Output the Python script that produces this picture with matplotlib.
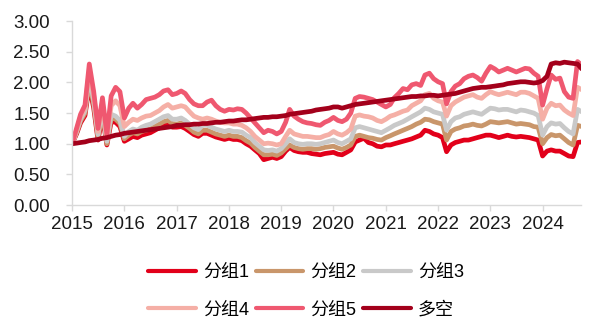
import pandas as pd
import matplotlib.pyplot as plt
import matplotlib.dates as mdates
from matplotlib.ticker import FormatStrFormatter

plt.rcParams['font.family'] = ['Liberation Sans', 'Noto Sans CJK SC', 'DejaVu Sans']

# monthly net value, Jan 2015 .. Oct 2024
dates = pd.date_range("2015-01-01", periods=118, freq="MS")

g1 = [1.00, 1.16, 1.34, 1.46, 1.95, 1.58, 1.06, 1.46, 0.98, 1.36, 1.35, 1.28,
      1.04, 1.08, 1.12, 1.10, 1.14, 1.16, 1.18, 1.22, 1.26, 1.30, 1.32, 1.27,
      1.27, 1.28, 1.25, 1.20, 1.15, 1.12, 1.17, 1.17, 1.14, 1.11, 1.09, 1.07,
      1.09, 1.07, 1.07, 1.05, 1.00, 0.96, 0.90, 0.84, 0.74, 0.76, 0.78, 0.76,
      0.79, 0.88, 0.94, 0.89, 0.87, 0.86, 0.86, 0.84, 0.83, 0.82, 0.84, 0.85,
      0.86, 0.83, 0.82, 0.86, 0.90, 1.03, 1.06, 1.09, 1.02, 1.00, 0.96, 0.95,
      0.98, 0.98, 1.00, 1.02, 1.04, 1.06, 1.08, 1.11, 1.14, 1.22, 1.20, 1.16,
      1.14, 1.10, 0.87, 0.98, 1.02, 1.04, 1.06, 1.06, 1.08, 1.10, 1.12, 1.14,
      1.14, 1.12, 1.10, 1.12, 1.14, 1.12, 1.11, 1.12, 1.11, 1.10, 1.08, 1.06,
      0.80, 0.88, 0.90, 0.88, 0.88, 0.84, 0.80, 0.79, 1.02, 1.03]

g2 = [1.00, 1.18, 1.37, 1.50, 2.02, 1.64, 1.10, 1.52, 1.00, 1.42, 1.40, 1.33,
      1.08, 1.14, 1.18, 1.16, 1.20, 1.22, 1.24, 1.28, 1.32, 1.36, 1.38, 1.33,
      1.32, 1.34, 1.30, 1.25, 1.19, 1.16, 1.22, 1.22, 1.19, 1.16, 1.14, 1.12,
      1.14, 1.12, 1.12, 1.10, 1.05, 1.01, 0.94, 0.88, 0.82, 0.82, 0.83, 0.81,
      0.85, 0.92, 0.98, 0.94, 0.92, 0.91, 0.92, 0.92, 0.91, 0.92, 0.94, 0.95,
      0.96, 0.93, 0.91, 0.94, 0.98, 1.12, 1.14, 1.12, 1.10, 1.09, 1.07, 1.06,
      1.10, 1.13, 1.16, 1.19, 1.22, 1.25, 1.28, 1.32, 1.35, 1.40, 1.39, 1.36,
      1.34, 1.32, 1.06, 1.20, 1.24, 1.26, 1.29, 1.30, 1.32, 1.30, 1.29, 1.32,
      1.36, 1.35, 1.34, 1.35, 1.36, 1.34, 1.32, 1.33, 1.32, 1.31, 1.28, 1.27,
      1.00, 1.10, 1.15, 1.13, 1.14, 1.08, 1.02, 0.98, 1.30, 1.28]

g3 = [1.00, 1.20, 1.40, 1.54, 2.10, 1.70, 1.15, 1.58, 1.04, 1.48, 1.45, 1.38,
      1.12, 1.20, 1.24, 1.22, 1.27, 1.30, 1.32, 1.36, 1.40, 1.44, 1.46, 1.40,
      1.40, 1.42, 1.38, 1.32, 1.26, 1.23, 1.30, 1.30, 1.27, 1.24, 1.22, 1.20,
      1.22, 1.20, 1.20, 1.19, 1.14, 1.10, 1.02, 0.96, 0.90, 0.89, 0.90, 0.88,
      0.92, 1.00, 1.08, 1.02, 1.00, 0.99, 1.00, 1.00, 0.99, 1.00, 1.02, 1.04,
      1.06, 1.02, 1.00, 1.04, 1.08, 1.26, 1.28, 1.26, 1.24, 1.22, 1.20, 1.18,
      1.22, 1.26, 1.30, 1.33, 1.36, 1.40, 1.44, 1.48, 1.52, 1.58, 1.56, 1.52,
      1.50, 1.48, 1.22, 1.36, 1.42, 1.44, 1.48, 1.50, 1.52, 1.50, 1.48, 1.53,
      1.58, 1.57, 1.55, 1.56, 1.56, 1.54, 1.52, 1.55, 1.54, 1.52, 1.50, 1.46,
      1.14, 1.28, 1.34, 1.32, 1.33, 1.26, 1.20, 1.16, 1.56, 1.52]

g4 = [1.00, 1.22, 1.44, 1.58, 2.20, 1.78, 1.20, 1.66, 1.10, 1.62, 1.70, 1.62,
      1.28, 1.35, 1.40, 1.38, 1.42, 1.45, 1.46, 1.50, 1.54, 1.60, 1.64, 1.58,
      1.60, 1.62, 1.60, 1.52, 1.45, 1.42, 1.40, 1.42, 1.40, 1.37, 1.35, 1.34,
      1.34, 1.32, 1.32, 1.30, 1.26, 1.20, 1.12, 1.06, 1.00, 1.01, 1.00, 0.98,
      1.00, 1.12, 1.22, 1.16, 1.14, 1.12, 1.12, 1.11, 1.10, 1.10, 1.13, 1.15,
      1.20, 1.16, 1.14, 1.18, 1.24, 1.45, 1.47, 1.45, 1.44, 1.42, 1.38, 1.36,
      1.40, 1.45, 1.47, 1.50, 1.53, 1.55, 1.62, 1.66, 1.70, 1.80, 1.82, 1.74,
      1.70, 1.68, 1.45, 1.62, 1.68, 1.72, 1.76, 1.78, 1.80, 1.76, 1.74, 1.80,
      1.85, 1.82, 1.80, 1.82, 1.84, 1.82, 1.80, 1.84, 1.84, 1.82, 1.78, 1.74,
      1.40, 1.58, 1.66, 1.62, 1.63, 1.55, 1.50, 1.46, 1.92, 1.88]

g5 = [1.00, 1.25, 1.48, 1.63, 2.30, 1.85, 1.25, 1.75, 1.15, 1.78, 1.92, 1.85,
      1.42, 1.58, 1.66, 1.58, 1.64, 1.72, 1.74, 1.76, 1.80, 1.86, 1.88, 1.80,
      1.82, 1.86, 1.82, 1.72, 1.65, 1.62, 1.62, 1.68, 1.71, 1.62, 1.56, 1.53,
      1.56, 1.55, 1.57, 1.56, 1.50, 1.42, 1.34, 1.26, 1.18, 1.22, 1.20, 1.16,
      1.20, 1.35, 1.56, 1.45, 1.40, 1.36, 1.34, 1.33, 1.31, 1.30, 1.35, 1.38,
      1.43, 1.38, 1.36, 1.40, 1.50, 1.74, 1.77, 1.76, 1.74, 1.72, 1.68, 1.64,
      1.60, 1.64, 1.75, 1.82, 1.90, 1.88, 1.96, 1.98, 1.95, 2.12, 2.15, 2.06,
      2.01, 1.98, 1.65, 1.85, 1.94, 1.98, 2.06, 2.10, 2.12, 2.08, 2.02, 2.15,
      2.26, 2.22, 2.17, 2.20, 2.23, 2.20, 2.17, 2.20, 2.23, 2.22, 2.15, 2.10,
      1.63, 1.90, 2.12, 2.05, 2.07, 1.85, 1.76, 1.74, 2.34, 2.28]

long_short = [1.00, 1.01, 1.02, 1.03, 1.05, 1.06, 1.07, 1.09, 1.10, 1.12, 1.14, 1.15,
              1.17, 1.18, 1.19, 1.20, 1.21, 1.22, 1.23, 1.24, 1.25, 1.26, 1.27, 1.28,
              1.30, 1.30, 1.31, 1.31, 1.32, 1.32, 1.33, 1.33, 1.34, 1.35, 1.35, 1.36,
              1.37, 1.37, 1.38, 1.39, 1.39, 1.40, 1.41, 1.42, 1.43, 1.43, 1.44, 1.44,
              1.45, 1.46, 1.48, 1.49, 1.50, 1.51, 1.52, 1.53, 1.55, 1.56, 1.57, 1.58,
              1.60, 1.60, 1.58, 1.60, 1.62, 1.64, 1.65, 1.66, 1.67, 1.68, 1.69, 1.70,
              1.71, 1.72, 1.73, 1.74, 1.75, 1.76, 1.77, 1.77, 1.78, 1.78, 1.79, 1.79,
              1.78, 1.79, 1.80, 1.81, 1.82, 1.84, 1.86, 1.88, 1.90, 1.91, 1.92, 1.92,
              1.93, 1.94, 1.95, 1.96, 1.98, 1.99, 2.00, 2.01, 2.01, 2.00, 1.99, 2.00,
              2.03, 2.10, 2.30, 2.32, 2.31, 2.33, 2.32, 2.31, 2.30, 2.22]

labels = ['分组1', '分组2', '分组3', '分组4', '分组5', '多空']
colors = ['#e2001a', '#c9966b', '#c9c9c9', '#f5afa6', '#ef5870', '#a3001b']
series = [g1, g2, g3, g4, g5, long_short]

fig = plt.figure(figsize=(5.91, 3.24), dpi=100)
ax = fig.add_axes([0.122, 0.367, 0.861, 0.568])

handles = []
for vals, lab, c in zip(series, labels, colors):
    line, = ax.plot(dates, vals, color=c, lw=3.4, label=lab,
                    solid_capstyle='round', solid_joinstyle='round')
    handles.append(line)

ax.set_ylim(0, 3.0)
ax.set_yticks([0, 0.5, 1.0, 1.5, 2.0, 2.5, 3.0])
ax.yaxis.set_major_formatter(FormatStrFormatter('%.2f'))
ax.set_xlim(pd.Timestamp("2015-01-01"), pd.Timestamp("2024-09-25"))
ax.xaxis.set_major_locator(mdates.YearLocator())
ax.xaxis.set_major_formatter(mdates.DateFormatter('%Y'))

for s in ['top', 'right']:
    ax.spines[s].set_visible(False)
for s in ['left', 'bottom']:
    ax.spines[s].set_color('#d9d9d9')
    ax.spines[s].set_linewidth(1.0)
ax.tick_params(axis='both', colors='#d9d9d9', labelcolor='#1a1a1a',
               labelsize=13.5, length=4, width=1.0)
ax.tick_params(axis='y', pad=12)
ax.tick_params(axis='x', pad=4)

# legend filled row by row: 3 columns x 2 rows
order = [0, 3, 1, 4, 2, 5]
leg = fig.legend([handles[i] for i in order], [labels[i] for i in order],
                 loc='center', bbox_to_anchor=(0.518, 0.101), ncol=3, frameon=False,
                 fontsize=13, handlelength=2.65, handletextpad=0.4,
                 columnspacing=0.35, labelspacing=1.15, borderpad=0)
for lh in leg.get_lines():
    lh.set_linewidth(3.0)

fig.savefig('out.png', dpi=100)
